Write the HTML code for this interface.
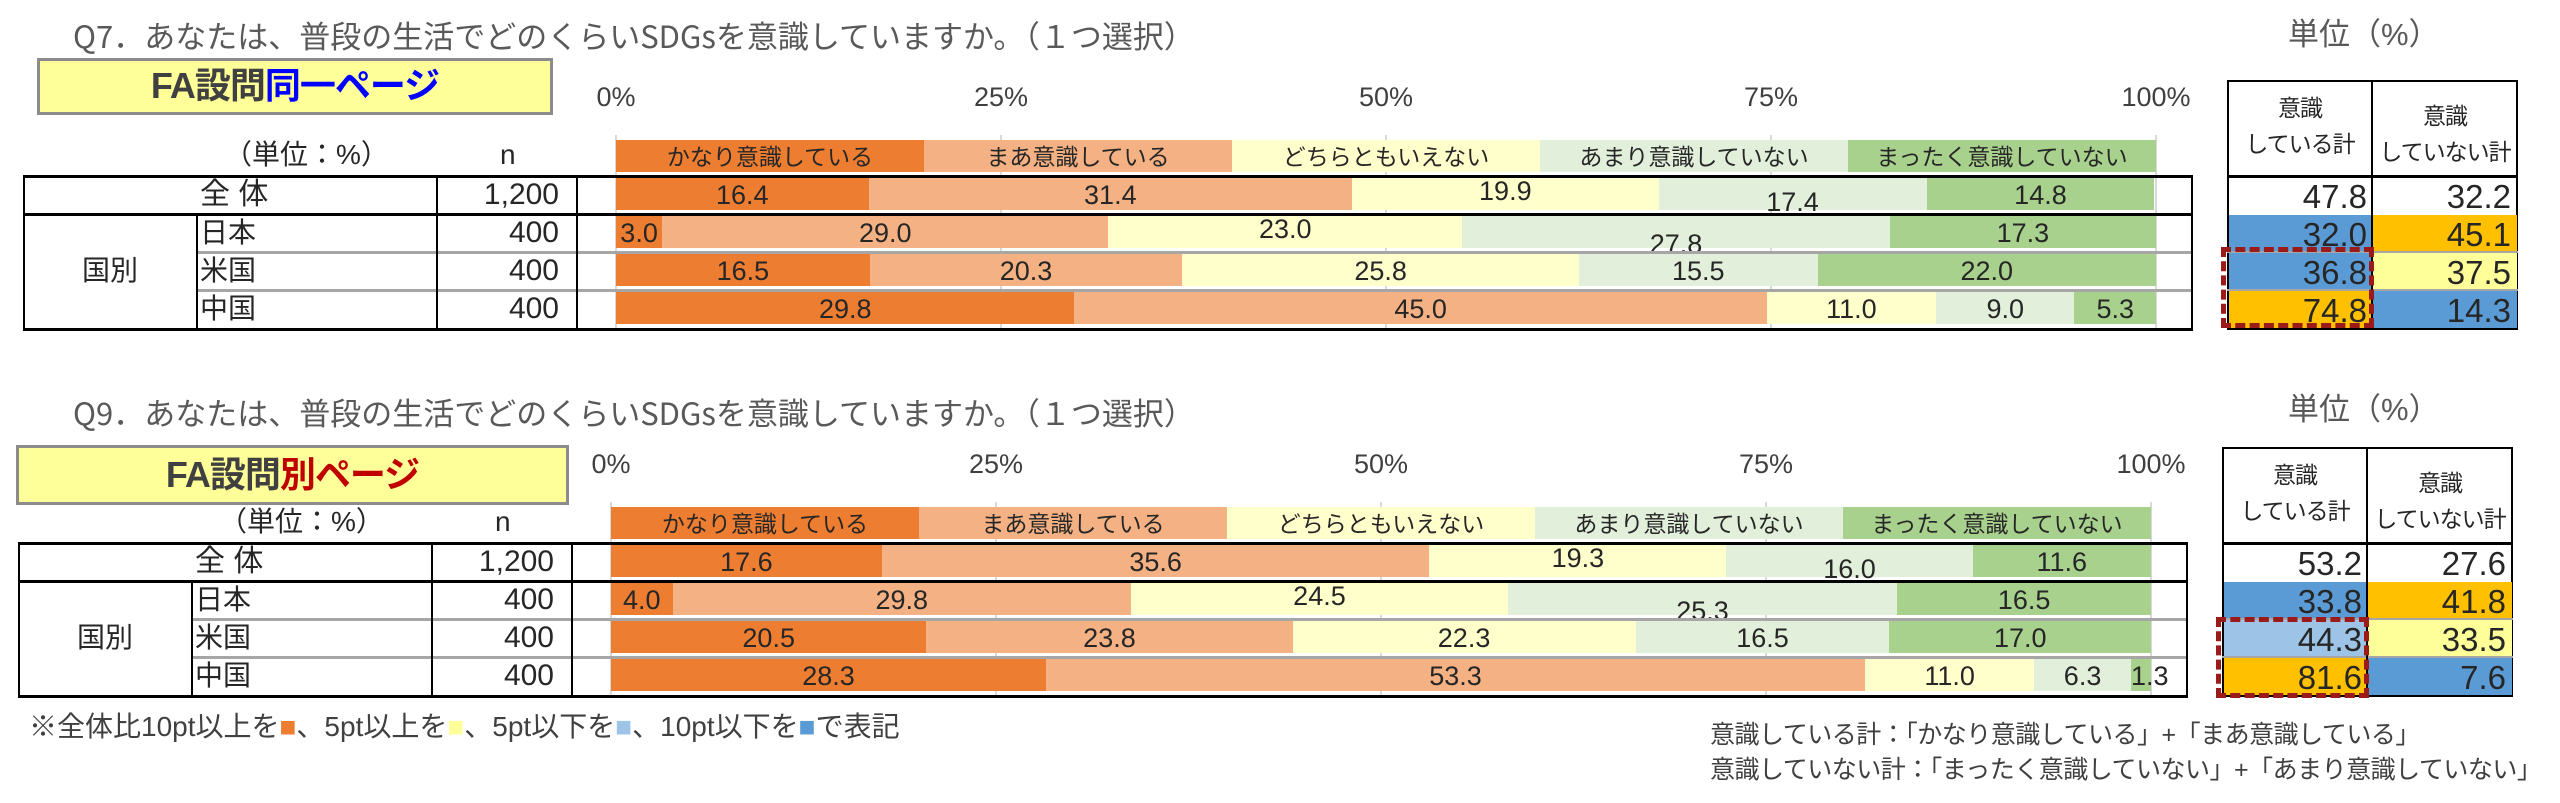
<!DOCTYPE html>
<html><head><meta charset="utf-8">
<style>
*{margin:0;padding:0;box-sizing:border-box}
body{width:2560px;height:803px;background:#fff;position:relative;overflow:hidden;font-family:"Liberation Sans","Noto Sans CJK JP",sans-serif;color:#262626}
.a{position:absolute}
.title{font-size:31px;color:#595959;white-space:nowrap;line-height:40px;font-family:"Noto Sans CJK JP","Liberation Sans",sans-serif}
.unit{font-size:31px;color:#595959;line-height:40px}
.fa{border:3px solid #8c8c8c;background:#ffff99;font-weight:bold;font-size:36px;color:#404040;text-align:center;letter-spacing:-1px}
.cb{position:absolute;width:2560px;height:340px}
.ax{position:absolute;top:80px;width:100px;text-align:center;font-size:27px;color:#404040;line-height:34px}
.gl{position:absolute;top:135px;height:196px;width:2px;background:#d9d9d9}
.leg{position:absolute;left:616px;top:140px;width:1540px;height:32px;display:flex;font-size:23px;line-height:34px;text-align:center}
.leg div{flex:1;white-space:nowrap}
.hl{position:absolute;height:3px;background:#000}
.gh{position:absolute;height:3px;background:#a6a6a6}
.vl{position:absolute;width:2px;background:#000}
.t{position:absolute;font-size:28px;line-height:38px;white-space:nowrap}
.bar{position:absolute;left:616px;width:1540px;height:32px;display:flex;font-size:27px;line-height:34px}
.bar div{text-align:center;white-space:nowrap;overflow:visible;position:relative}
.c1{background:#ed7d31}.c2{background:#f4b183}.c3{background:#ffffcc}.c4{background:#e2efda}.c5{background:#a9d18e}
.up{top:-4px}.dn{top:7px}
.rt{position:absolute;left:2227px;top:80px;width:291px;height:250px;border:2px solid #000}
.rh{position:absolute;font-size:23px;line-height:36px;text-align:center;width:144px;white-space:nowrap;letter-spacing:-1px}
.rv{position:absolute;width:144px;height:37px;font-size:33px;line-height:40px;text-align:right;padding-right:6px}
.bl{background:#5b9bd5}.go{background:#ffc000}.ly{background:#ffff99}.lb{background:#9dc3e6}
.dash{position:absolute;border:5px dashed #9b1b1b}
.note{font-size:28px;color:#404040;line-height:34px;white-space:nowrap}
.note2{font-size:25px;color:#404040;line-height:34px;white-space:nowrap;letter-spacing:-0.5px}
</style></head><body>

<!-- TOP -->
<div class="a title" style="left:73px;top:15px">Q7．あなたは、普段の生活でどのくらいSDGsを意識していますか。（１つ選択）</div>
<div class="a unit" style="left:2288px;top:15px">単位（%）</div>
<div class="a fa" style="left:37px;top:58px;width:516px;height:57px;line-height:50px">FA設問<span style="color:#0000ff">同一ページ</span></div>

<div class="cb" style="left:0;top:0">
<div class="ax" style="left:566px">0%</div><div class="ax" style="left:951px">25%</div><div class="ax" style="left:1336px">50%</div><div class="ax" style="left:1721px">75%</div><div class="ax" style="left:2106px">100%</div>
<div class="gl" style="left:615px"></div><div class="gl" style="left:1000px"></div><div class="gl" style="left:1385px"></div><div class="gl" style="left:1770px"></div><div class="gl" style="left:2155px"></div>
<div class="leg"><div class="c1">かなり意識している</div><div class="c2">まあ意識している</div><div class="c3">どちらともいえない</div><div class="c4">あまり意識していない</div><div class="c5">まったく意識していない</div></div>
<div class="t" style="left:224px;top:136px">（単位：%）</div><div class="t" style="left:500px;top:136px">n</div>
<div class="t" style="left:200px;top:176px;font-size:30px">全 体</div><div class="t" style="left:437px;width:122px;text-align:right;top:176px;font-size:30px">1,200</div>
<div class="t" style="left:200px;top:214px">日本</div><div class="t" style="left:437px;width:122px;text-align:right;top:214px;font-size:30px">400</div>
<div class="t" style="left:200px;top:252px">米国</div><div class="t" style="left:437px;width:122px;text-align:right;top:252px;font-size:30px">400</div>
<div class="t" style="left:200px;top:290px">中国</div><div class="t" style="left:437px;width:122px;text-align:right;top:290px;font-size:30px">400</div>
<div class="t" style="left:82px;top:252px">国別</div>
<div class="bar" style="top:178px"><div class="c1" style="width:16.4%">16.4</div><div class="c2" style="width:31.4%">31.4</div><div class="c3" style="width:19.9%"><span class="up" style="position:relative">19.9</span></div><div class="c4" style="width:17.4%"><span class="dn" style="position:relative">17.4</span></div><div class="c5" style="width:14.8%">14.8</div></div>
<div class="bar" style="top:216px"><div class="c1" style="width:3%">3.0</div><div class="c2" style="width:29%">29.0</div><div class="c3" style="width:23%"><span class="up" style="position:relative">23.0</span></div><div class="c4" style="width:27.8%"><span style="position:relative;top:11px">27.8</span></div><div class="c5" style="width:17.3%">17.3</div></div>
<div class="bar" style="top:254px"><div class="c1" style="width:16.5%">16.5</div><div class="c2" style="width:20.3%">20.3</div><div class="c3" style="width:25.8%">25.8</div><div class="c4" style="width:15.5%">15.5</div><div class="c5" style="width:22%">22.0</div></div>
<div class="bar" style="top:292px"><div class="c1" style="width:29.8%">29.8</div><div class="c2" style="width:45%">45.0</div><div class="c3" style="width:11%">11.0</div><div class="c4" style="width:9%">9.0</div><div class="c5" style="width:5.3%">5.3</div></div>
<div class="hl" style="left:23px;top:175px;width:2170px"></div>
<div class="hl" style="left:23px;top:213px;width:2170px"></div>
<div class="gh" style="left:196px;top:251px;width:1997px"></div>
<div class="gh" style="left:196px;top:289px;width:1997px"></div>
<div class="hl" style="left:23px;top:328px;width:2170px"></div>
<div class="vl" style="left:23px;top:175px;height:156px"></div>
<div class="vl" style="left:196px;top:213px;height:118px"></div>
<div class="vl" style="left:436px;top:175px;height:156px"></div>
<div class="vl" style="left:576px;top:175px;height:156px"></div>
<div class="vl" style="left:2191px;top:175px;height:156px"></div>
<div class="rt"></div>
<div class="rh" style="left:2228px;top:90px">意識<br>している計</div><div class="rh" style="left:2373px;top:98px">意識<br>していない計</div>
<div class="hl" style="left:2227px;top:175px;width:291px"></div>
<div class="rv" style="left:2229px;top:177px">47.8</div><div class="rv" style="left:2373px;top:177px">32.2</div>
<div class="rv bl" style="left:2229px;top:215px">32.0</div><div class="rv go" style="left:2373px;top:215px">45.1</div>
<div class="rv bl" style="left:2229px;top:253px">36.8</div><div class="rv ly" style="left:2373px;top:253px">37.5</div>
<div class="rv go" style="left:2229px;top:291px">74.8</div><div class="rv bl" style="left:2373px;top:291px">14.3</div>
<div class="gh" style="left:2227px;top:251px;width:291px;height:2px"></div><div class="gh" style="left:2227px;top:289px;width:291px;height:2px"></div>
<div class="vl" style="left:2371px;top:80px;height:250px"></div>
<div class="dash" style="left:2221px;top:247px;width:153px;height:81px"></div>
</div>

<!-- BOTTOM -->
<div class="a title" style="left:73px;top:392px">Q9．あなたは、普段の生活でどのくらいSDGsを意識していますか。（１つ選択）</div>
<div class="a unit" style="left:2288px;top:390px">単位（%）</div>
<div class="a fa" style="left:16px;top:445px;width:553px;height:60px;line-height:54px">FA設問<span style="color:#c00000">別ページ</span></div>

<div class="cb" style="left:-5px;top:367px">
<div class="ax" style="left:566px">0%</div><div class="ax" style="left:951px">25%</div><div class="ax" style="left:1336px">50%</div><div class="ax" style="left:1721px">75%</div><div class="ax" style="left:2106px">100%</div>
<div class="gl" style="left:615px"></div><div class="gl" style="left:1000px"></div><div class="gl" style="left:1385px"></div><div class="gl" style="left:1770px"></div><div class="gl" style="left:2155px"></div>
<div class="leg"><div class="c1">かなり意識している</div><div class="c2">まあ意識している</div><div class="c3">どちらともいえない</div><div class="c4">あまり意識していない</div><div class="c5">まったく意識していない</div></div>
<div class="t" style="left:224px;top:136px">（単位：%）</div><div class="t" style="left:500px;top:136px">n</div>
<div class="t" style="left:200px;top:176px;font-size:30px">全 体</div><div class="t" style="left:437px;width:122px;text-align:right;top:176px;font-size:30px">1,200</div>
<div class="t" style="left:200px;top:214px">日本</div><div class="t" style="left:437px;width:122px;text-align:right;top:214px;font-size:30px">400</div>
<div class="t" style="left:200px;top:252px">米国</div><div class="t" style="left:437px;width:122px;text-align:right;top:252px;font-size:30px">400</div>
<div class="t" style="left:200px;top:290px">中国</div><div class="t" style="left:437px;width:122px;text-align:right;top:290px;font-size:30px">400</div>
<div class="t" style="left:82px;top:252px">国別</div>
<div class="bar" style="top:178px"><div class="c1" style="width:17.6%">17.6</div><div class="c2" style="width:35.6%">35.6</div><div class="c3" style="width:19.3%"><span class="up" style="position:relative">19.3</span></div><div class="c4" style="width:16%"><span class="dn" style="position:relative">16.0</span></div><div class="c5" style="width:11.6%">11.6</div></div>
<div class="bar" style="top:216px"><div class="c1" style="width:4%">4.0</div><div class="c2" style="width:29.8%">29.8</div><div class="c3" style="width:24.5%"><span class="up" style="position:relative">24.5</span></div><div class="c4" style="width:25.3%"><span style="position:relative;top:11px">25.3</span></div><div class="c5" style="width:16.5%">16.5</div></div>
<div class="bar" style="top:254px"><div class="c1" style="width:20.5%">20.5</div><div class="c2" style="width:23.8%">23.8</div><div class="c3" style="width:22.3%">22.3</div><div class="c4" style="width:16.5%">16.5</div><div class="c5" style="width:17%">17.0</div></div>
<div class="bar" style="top:292px"><div class="c1" style="width:28.3%">28.3</div><div class="c2" style="width:53.3%">53.3</div><div class="c3" style="width:11%">11.0</div><div class="c4" style="width:6.3%">6.3</div><div class="c5" style="width:1.3%">1.3</div></div>
<div class="hl" style="left:23px;top:175px;width:2170px"></div>
<div class="hl" style="left:23px;top:213px;width:2170px"></div>
<div class="gh" style="left:196px;top:251px;width:1997px"></div>
<div class="gh" style="left:196px;top:289px;width:1997px"></div>
<div class="hl" style="left:23px;top:328px;width:2170px"></div>
<div class="vl" style="left:23px;top:175px;height:156px"></div>
<div class="vl" style="left:196px;top:213px;height:118px"></div>
<div class="vl" style="left:436px;top:175px;height:156px"></div>
<div class="vl" style="left:576px;top:175px;height:156px"></div>
<div class="vl" style="left:2191px;top:175px;height:156px"></div>
<div class="rt"></div>
<div class="rh" style="left:2228px;top:90px">意識<br>している計</div><div class="rh" style="left:2373px;top:98px">意識<br>していない計</div>
<div class="hl" style="left:2227px;top:175px;width:291px"></div>
<div class="rv" style="left:2229px;top:177px">53.2</div><div class="rv" style="left:2373px;top:177px">27.6</div>
<div class="rv bl" style="left:2229px;top:215px">33.8</div><div class="rv go" style="left:2373px;top:215px">41.8</div>
<div class="rv lb" style="left:2229px;top:253px">44.3</div><div class="rv ly" style="left:2373px;top:253px">33.5</div>
<div class="rv go" style="left:2229px;top:291px">81.6</div><div class="rv bl" style="left:2373px;top:291px">7.6</div>
<div class="gh" style="left:2227px;top:251px;width:291px;height:2px"></div><div class="gh" style="left:2227px;top:289px;width:291px;height:2px"></div>
<div class="vl" style="left:2371px;top:80px;height:250px"></div>
<div class="dash" style="left:2221px;top:250px;width:153px;height:81px"></div>
</div>

<div class="a note" style="left:29px;top:710px">※全体比10pt以上を<span style="color:#ed7d31">■</span>、5pt以上を<span style="color:#ffff99">■</span>、5pt以下を<span style="color:#9dc3e6">■</span>、10pt以下を<span style="color:#5b9bd5">■</span>で表記</div>
<div class="a note2" style="left:1710px;top:718px">意識している計：「かなり意識している」+「まあ意識している」</div>
<div class="a note2" style="left:1710px;top:753px">意識していない計：「まったく意識していない」+「あまり意識していない」</div>
</body></html>
